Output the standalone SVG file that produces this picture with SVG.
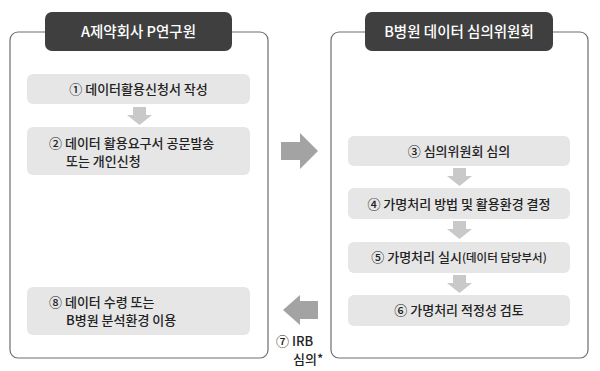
<svg xmlns="http://www.w3.org/2000/svg" width="600" height="371" viewBox="0 0 600 371">
<style>
text{font-family:"Noto Sans CJK KR","Noto Sans",sans-serif;fill:#222;font-size:13px;font-weight:500}
.cont{fill:#fff;stroke:#6e6e6e;stroke-width:1.2}
.title{fill:#3f3f3f}
.title-t{fill:#fff;font-size:14.5px;font-weight:500}
.box{fill:#e6e6e6}
.sa{fill:#c9c9c9}
.ba{fill:#a3a3a3}
.c{text-anchor:middle}
</style>
<rect width="600" height="371" fill="#fff"/>
<g id="left-panel">
<rect class="cont" x="10" y="32" width="258" height="326" rx="8"/>
<rect class="title" x="45" y="12" width="187" height="39" rx="7"/>
<text class="title-t c" x="138.5" y="37">A제약회사 P연구원</text>
</g>
<g id="right-panel">
<rect class="cont" x="331" y="32" width="257" height="326" rx="8"/>
<rect class="title" x="365" y="12" width="188" height="39" rx="7"/>
<text class="title-t c" x="459" y="37">B병원 데이터 심의위원회</text>
</g>
<g id="step1">
<rect class="box" x="27" y="74" width="223" height="30" rx="6"/>
<text class="c" x="138.5" y="94">① 데이터활용신청서 작성</text>
</g>
<g id="step2">
<rect class="box" x="27" y="127" width="223" height="48" rx="6"/>
<text x="49" y="148">② 데이터 활용요구서 공문발송</text>
<text x="66" y="166">또는 개인신청</text>
</g>
<g id="step3">
<rect class="box" x="348" y="136" width="222" height="30" rx="6"/>
<text class="c" x="459" y="156">③ 심의위원회 심의</text>
</g>
<g id="step4">
<rect class="box" x="348" y="188" width="222" height="31" rx="6"/>
<text class="c" x="459" y="209">④ 가명처리 방법 및 활용환경 결정</text>
</g>
<g id="step5">
<rect class="box" x="348" y="242" width="222" height="31" rx="6"/>
<text class="c" x="459" y="262">⑤ 가명처리 실시<tspan font-size="11.5px">(데이터 담당부서)</tspan></text>
</g>
<g id="step6">
<rect class="box" x="348" y="295" width="222" height="31" rx="6"/>
<text class="c" x="459" y="315">⑥ 가명처리 적정성 검토</text>
</g>
<g id="step8">
<rect class="box" x="27" y="287" width="223" height="48" rx="6"/>
<text x="49" y="307">⑧ 데이터 수령 또는</text>
<text x="66" y="325">B병원 분석환경 이용</text>
</g>
<g id="connectors">
<polygon class="sa" points="133,107 146,107 146,115 152,115 139.5,125 127,115 133,115"/>
<polygon class="sa" points="453,168 466,168 466,176 472,176 459.5,186 447,176 453,176"/>
<polygon class="sa" points="453,221 466,221 466,229 472,229 459.5,239 447,229 453,229"/>
<polygon class="sa" points="453,275 466,275 466,283 472,283 459.5,293 447,283 453,283"/>
<polygon class="ba" points="281,142 300,142 300,133 318,151 300,169 300,160 281,160"/>
<polygon class="ba" points="318,301 300,301 300,295 283,310 300,325 300,319 318,319"/>
<text x="276" y="346">⑦ IRB</text>
<text x="293" y="364">심의*</text>
</g>
</svg>
